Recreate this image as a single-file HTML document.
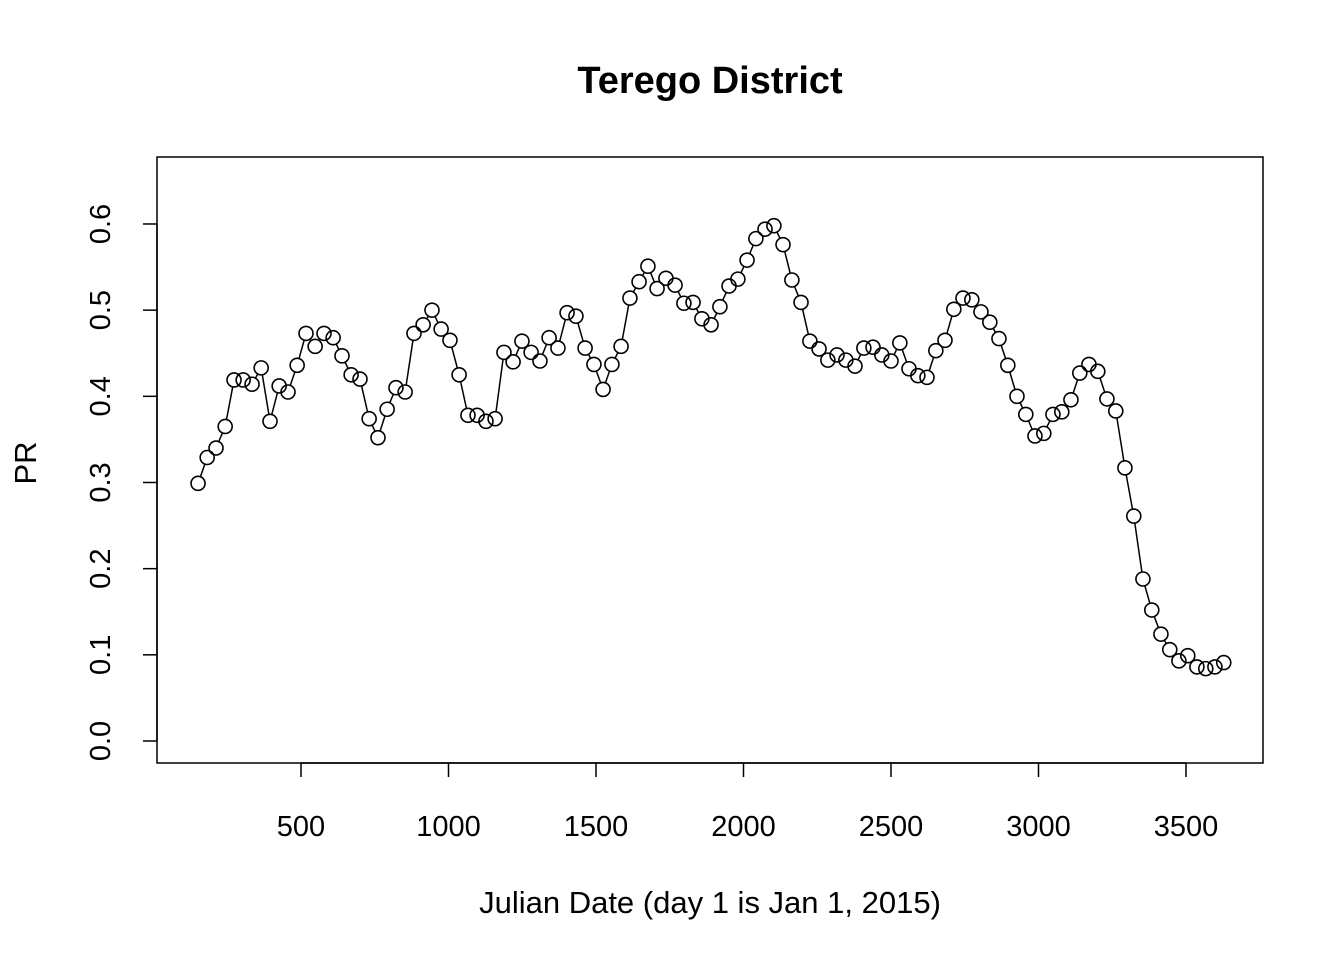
<!DOCTYPE html>
<html><head><meta charset="utf-8"><style>
body{margin:0;background:#fff;}
svg{display:block;font-family:"Liberation Sans",Arial,sans-serif;}
</style></head><body>
<svg id="chart" width="1344" height="960" xmlns="http://www.w3.org/2000/svg">
<text x="710" y="93" font-size="38" font-weight="bold" text-anchor="middle">Terego District</text>
<rect x="157" y="157" width="1106" height="606" fill="none" stroke="#000" stroke-width="1.5"/>
<text x="710" y="913" font-size="31" text-anchor="middle">Julian Date (day 1 is Jan 1, 2015)</text>
<text transform="translate(36,463) rotate(-90)" font-size="31" text-anchor="middle">PR</text>
<g id="axes"></g><g id="series"></g>
</svg>
<script>
const dates=[151,182,212,243,273,304,334,365,395,426,456,487,517,548,578,609,639,670,700,731,761,792,822,853,883,914,944,975,1005,1036,1066,1097,1127,1158,1188,1219,1249,1280,1310,1341,1371,1402,1432,1463,1493,1524,1554,1585,1615,1646,1676,1707,1737,1768,1798,1829,1859,1890,1920,1951,1981,2012,2042,2073,2103,2134,2164,2195,2225,2256,2286,2317,2347,2378,2408,2439,2469,2500,2530,2561,2591,2622,2652,2683,2713,2744,2774,2805,2835,2866,2896,2927,2957,2988,3018,3049,3079,3110,3140,3171,3201,3232,3262,3293,3323,3354,3384,3415,3445,3476,3506,3537,3567,3598,3628];
const prValues=[0.299,0.329,0.340,0.365,0.419,0.419,0.414,0.433,0.371,0.412,0.405,0.436,0.473,0.458,0.473,0.468,0.447,0.425,0.420,0.374,0.352,0.385,0.410,0.405,0.473,0.483,0.500,0.478,0.465,0.425,0.378,0.378,0.371,0.374,0.451,0.440,0.464,0.451,0.441,0.468,0.456,0.497,0.493,0.456,0.437,0.408,0.437,0.458,0.514,0.533,0.551,0.525,0.537,0.529,0.508,0.509,0.490,0.483,0.504,0.528,0.536,0.558,0.583,0.594,0.598,0.576,0.535,0.509,0.464,0.455,0.442,0.448,0.442,0.435,0.456,0.457,0.448,0.441,0.462,0.432,0.424,0.422,0.453,0.465,0.501,0.514,0.512,0.498,0.486,0.467,0.436,0.400,0.379,0.354,0.357,0.379,0.382,0.396,0.427,0.437,0.429,0.397,0.383,0.317,0.261,0.188,0.152,0.124,0.106,0.093,0.099,0.086,0.084,0.086,0.091];
const xTicks=[500,1000,1500,2000,2500,3000,3500];
const yTicks=[0.0,0.1,0.2,0.3,0.4,0.5,0.6];
const yTickLabels=["0.0","0.1","0.2","0.3","0.4","0.5","0.6"];
const NS="http://www.w3.org/2000/svg";
function xs(v){return 301+(v-500)*0.295;}
function ys(v){return 741-v*861.7;}
const axes=document.getElementById('axes'),ser=document.getElementById('series');
function mk(tag,at,parent){const e=document.createElementNS(NS,tag);for(const k in at)e.setAttribute(k,at[k]);parent.appendChild(e);return e;}
let xl=mk('line',{x1:xs(xTicks[0]),x2:xs(xTicks[xTicks.length-1]),y1:763,y2:763,stroke:'#000','stroke-width':1.5},axes);


xTicks.forEach(t=>{
 const l=mk('line',{x1:xs(t),x2:xs(t),y1:763,y2:777,stroke:'#000','stroke-width':1.5},axes);
 
 
 const tx=mk('text',{x:xs(t),y:836,'font-size':29,'text-anchor':'middle'},axes);tx.textContent=t;
 
 
});
let yl=mk('line',{x1:157,x2:157,y1:ys(0),y2:ys(0.6),stroke:'#000','stroke-width':1.5},axes);


yTicks.forEach((t,i)=>{
 const l=mk('line',{x1:143,x2:157,y1:ys(t),y2:ys(t),stroke:'#000','stroke-width':1.5},axes);
 
 
 const tx=mk('text',{transform:`translate(110,${ys(t)}) rotate(-90)`,'font-size':29,'text-anchor':'middle'},axes);tx.textContent=yTickLabels[i];
 
 
});
const r=7;
for(let i=0;i<dates.length-1;i++){
 const x1=xs(dates[i]),y1=ys(prValues[i]),x2=xs(dates[i+1]),y2=ys(prValues[i+1]);
 const d=Math.hypot(x2-x1,y2-y1);if(d<=2*r)continue;
 const ux=(x2-x1)/d,uy=(y2-y1)/d;
 const l=mk('line',{x1:x1+ux*r,y1:y1+uy*r,x2:x2-ux*r,y2:y2-uy*r,stroke:'#000','stroke-width':1.5},ser);
 
 
}
dates.forEach((d,i)=>{
 const c=mk('circle',{cx:xs(d),cy:ys(prValues[i]),r:r,fill:'none',stroke:'#000','stroke-width':1.6},ser);
 
 
});
</script>
</body></html>
